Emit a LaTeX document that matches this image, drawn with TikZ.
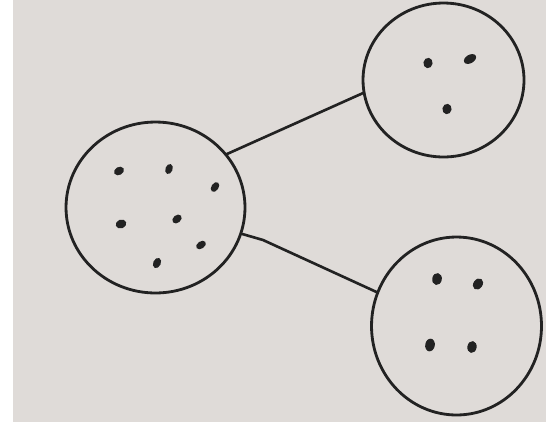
\documentclass[tikz,border=0pt]{standalone}
\usetikzlibrary{shapes.geometric}

\definecolor{paper}{RGB}{223,219,216}
\definecolor{ink}{RGB}{34,34,34}

\begin{document}
\begin{tikzpicture}[x=0.02cm, y=0.02cm,
  set/.style={draw=ink, ellipse, line width=1.6pt, inner sep=0pt, outer sep=0pt},
  link/.style={draw=ink, line width=1.5pt, line join=round}]
  % 底纸 546 x 424 px, 左侧和下方留白
  \useasboundingbox (0,0) rectangle (546,424);
  \fill[white] (0,0) rectangle (546,424);
  \fill[paper] (12.5,2.5) rectangle (546,424);
  % 三个集合 L 左, T 右上, B 右下
  \node[set, minimum width=3.58cm, minimum height=3.42cm] (L) at (155.5,216.5) {};
  \node[set, minimum width=3.22cm, minimum height=3.08cm] (T) at (443.5,344) {};
  \node[set, minimum width=3.40cm, minimum height=3.56cm] (B) at (456.5,98) {};
  % 连线, 下方那条在左端略有折弯
  \coordinate (kink) at (263,184);
  \draw[link] (L.37) -- (T.189);
  \draw[link] (L.-17) -- (kink) -- (B.157);
  % 点 x/y/旋转/x 半径/y 半径
  \foreach \x/\y/\r/\a/\b in {119/253/30/5.2/4.0, 169/255/70/5.2/3.6,
      215/237/55/5.4/3.6, 121/200/20/5.4/4.4, 177/205/40/5.2/3.8,
      201/179/35/5.4/3.6, 157/161/65/5.4/3.8,
      428/361/80/5.2/4.6, 470/365/30/6.6/4.2, 447/315/80/5.2/4.6,
      437/145/80/6.0/4.8, 478/140/55/6.0/4.6, 430/79/80/6.4/4.8, 472/77/80/6.0/4.6}
    \fill[ink, rotate around={\r:(\x,\y)}] (\x,\y) ellipse [x radius=\a, y radius=\b];
\end{tikzpicture}
\end{document}
